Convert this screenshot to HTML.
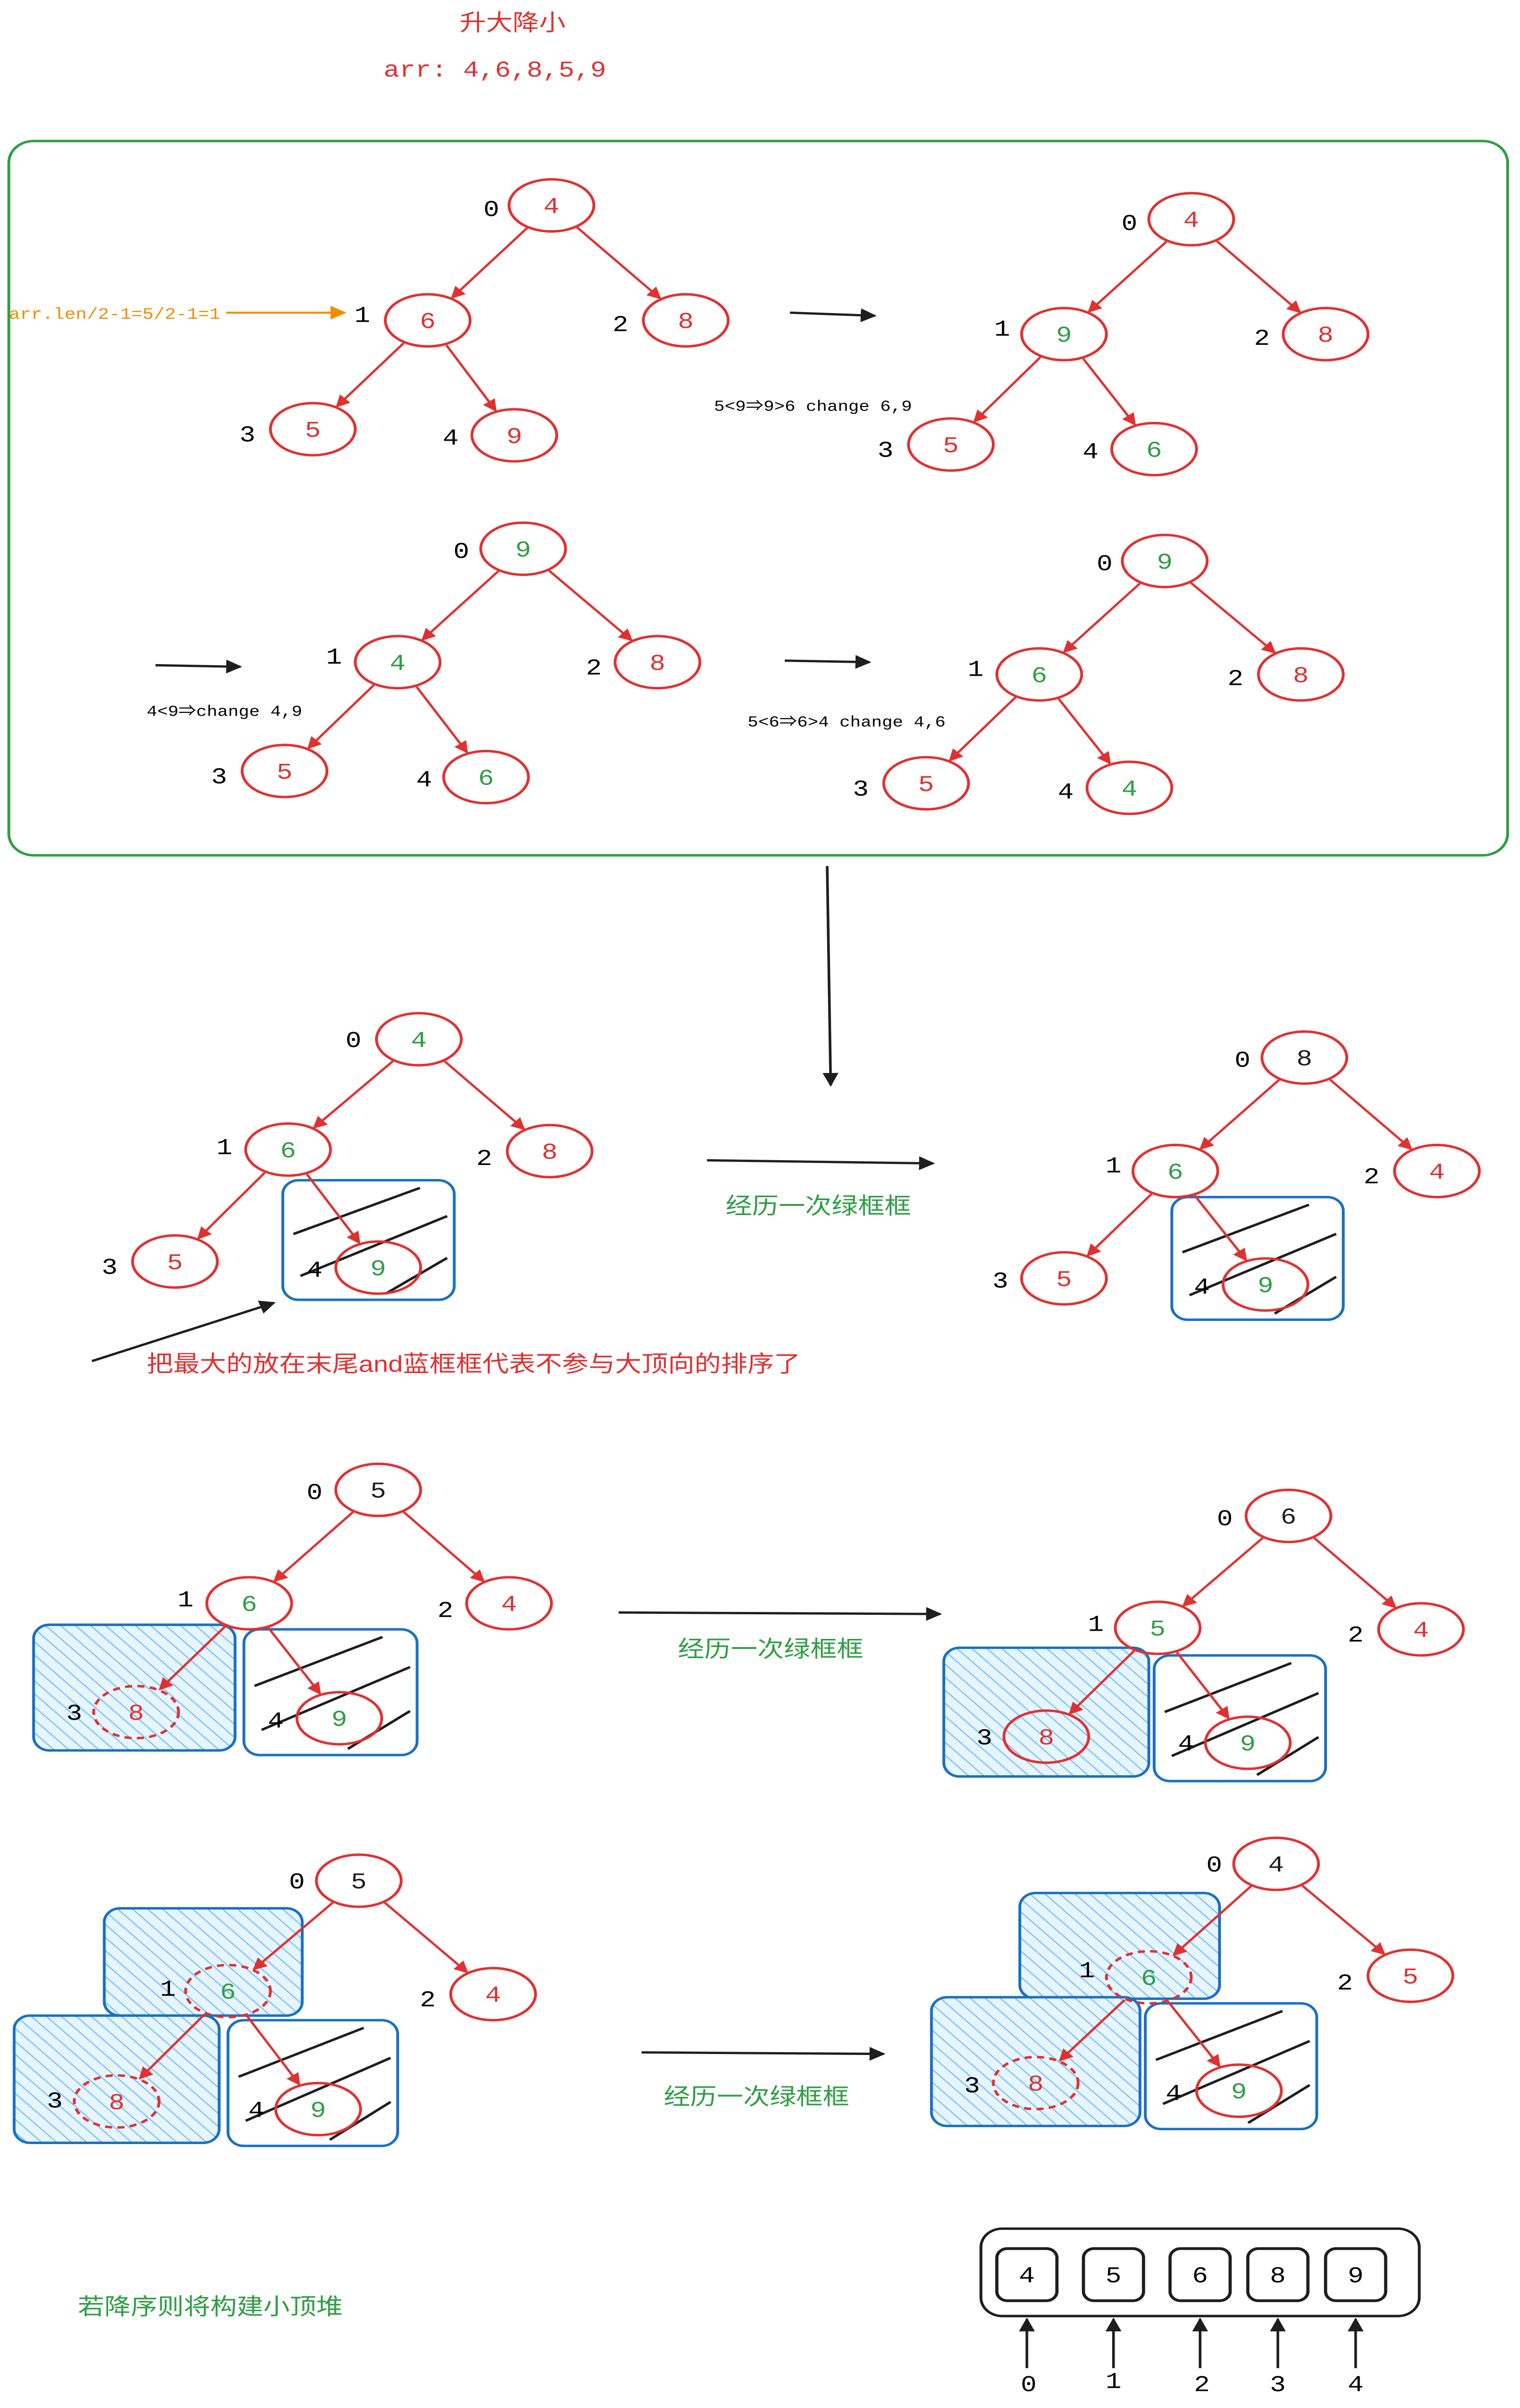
<!DOCTYPE html>
<html><head><meta charset="utf-8"><style>
html,body{margin:0;padding:0;background:#fff;overflow:hidden;width:100vw;height:100vh}
svg{display:block;position:absolute;left:0;top:0;width:100vw;height:100vh}
text{font-family:"Liberation Mono","Noto Sans CJK SC",monospace}
.cn{font-family:"Liberation Sans","Noto Sans CJK SC",sans-serif}
</style></head><body>
<svg id="s" xmlns="http://www.w3.org/2000/svg" viewBox="0 0 860 1571" preserveAspectRatio="none">
<defs>
<marker id="ar" markerWidth="8" markerHeight="8" refX="7" refY="4" orient="auto" markerUnits="userSpaceOnUse"><path d="M0,0 L8,4 L0,8 z" fill="#e03131"/></marker>
<marker id="ak" markerWidth="9" markerHeight="9" refX="8" refY="4.5" orient="auto" markerUnits="userSpaceOnUse"><path d="M0,0 L9,4.5 L0,9 z" fill="#1e1e1e"/></marker>
<marker id="ao" markerWidth="9" markerHeight="9" refX="8" refY="4.5" orient="auto" markerUnits="userSpaceOnUse"><path d="M0,0 L9,4.5 L0,9 z" fill="#f08c00"/></marker>
<pattern id="hb" width="6" height="6" patternUnits="userSpaceOnUse" patternTransform="rotate(-45)"><rect width="6" height="6" fill="#e7f5ff"/><line x1="0" y1="0" x2="0" y2="6" stroke="#74c0fc" stroke-width="1.4"/></pattern>
</defs>
<g id="g"></g>
<text x="290" y="20" font-size="15" fill="#e03131" class="cn" text-anchor="middle">升大降小</text>
<text x="217" y="50" font-size="15" fill="#e03131">arr: 4,6,8,5,9</text>
<rect x="5" y="92" width="848" height="466" rx="14" fill="none" stroke="#2f9e44" stroke-width="1.6"/>
<text x="5" y="208" font-size="10.5" fill="#f08c00">arr.len/2-1=5/2-1=1</text>
<text x="404" y="268" font-size="10">5&lt;9⇒9&gt;6 change 6,9</text>
<text x="83" y="467" font-size="10">4&lt;9⇒change 4,9</text>
<text x="423" y="474" font-size="10">5&lt;6⇒6&gt;4 change 4,6</text>
<text x="83" y="895" font-size="15" fill="#e03131" class="cn">把最大的放在末尾and蓝框框代表不参与大顶向的排序了</text>
<text x="463" y="792" font-size="15" fill="#2f9e44" class="cn" text-anchor="middle">经历一次绿框框</text>
<text x="436" y="1081" font-size="15" fill="#2f9e44" class="cn" text-anchor="middle">经历一次绿框框</text>
<text x="428" y="1373" font-size="15" fill="#2f9e44" class="cn" text-anchor="middle">经历一次绿框框</text>
<text x="119" y="1510" font-size="15" fill="#2f9e44" class="cn" text-anchor="middle">若降序则将构建小顶堆</text>
<g id="t" font-size="15" text-anchor="middle">
<text x="278" y="141">0</text><text x="205" y="210">1</text><text x="351" y="216">2</text><text x="140" y="288">3</text><text x="255" y="290">4</text>
<text x="639" y="150">0</text><text x="567" y="219">1</text><text x="714" y="225">2</text><text x="501" y="298">3</text><text x="617" y="299">4</text>
<text x="261" y="364">0</text><text x="189" y="433">1</text><text x="336" y="440">2</text><text x="124" y="511">3</text><text x="240" y="513">4</text>
<text x="625" y="372">0</text><text x="552" y="441">1</text><text x="699" y="447">2</text><text x="487" y="519">3</text><text x="603" y="521">4</text>
<text x="200" y="683">0</text><text x="127" y="753">1</text><text x="274" y="760">2</text><text x="62" y="831">3</text><text x="178" y="833">4</text>
<text x="703" y="696">0</text><text x="630" y="765">1</text><text x="776" y="772">2</text><text x="566" y="840">3</text><text x="680" y="844">4</text>
<text x="178" y="978">0</text><text x="105" y="1048">1</text><text x="252" y="1055">2</text><text x="42" y="1122">3</text><text x="156" y="1127">4</text>
<text x="693" y="995">0</text><text x="620" y="1064">1</text><text x="767" y="1071">2</text><text x="557" y="1138">3</text><text x="671" y="1142">4</text>
<text x="168" y="1232">0</text><text x="95" y="1302">1</text><text x="242" y="1309">2</text><text x="31" y="1375">3</text><text x="145" y="1381">4</text>
<text x="687" y="1221">0</text><text x="615" y="1290">1</text><text x="761" y="1298">2</text><text x="550" y="1365">3</text><text x="664" y="1370">4</text>
<text x="582" y="1560">0</text><text x="630" y="1558">1</text><text x="680" y="1560">2</text><text x="723" y="1560">3</text><text x="767" y="1560">4</text>
<text x="581" y="1489">4</text><text x="630" y="1489">5</text><text x="679" y="1489">6</text><text x="723" y="1489">8</text><text x="767" y="1489">9</text>
</g>
<g id="v" font-size="15" text-anchor="middle">
<text x="312" y="139" fill="#e03131">4</text><text x="242" y="214" fill="#e03131">6</text><text x="388" y="214" fill="#e03131">8</text><text x="177" y="285" fill="#e03131">5</text><text x="291" y="289" fill="#e03131">9</text>
<text x="674" y="148" fill="#e03131">4</text><text x="602" y="223" fill="#2f9e44">9</text><text x="750" y="223" fill="#e03131">8</text><text x="538" y="295" fill="#e03131">5</text><text x="653" y="298" fill="#2f9e44">6</text>
<text x="296" y="363" fill="#2f9e44">9</text><text x="225" y="437" fill="#2f9e44">4</text><text x="372" y="437" fill="#e03131">8</text><text x="161" y="508" fill="#e03131">5</text><text x="275" y="512" fill="#2f9e44">6</text>
<text x="659" y="371" fill="#2f9e44">9</text><text x="588" y="445" fill="#2f9e44">6</text><text x="736" y="445" fill="#e03131">8</text><text x="524" y="516" fill="#e03131">5</text><text x="639" y="519" fill="#2f9e44">4</text>
<text x="237" y="683" fill="#2f9e44">4</text><text x="163" y="755" fill="#2f9e44">6</text><text x="311" y="756" fill="#e03131">8</text><text x="99" y="828" fill="#e03131">5</text><text x="214" y="832" fill="#2f9e44">9</text>
<text x="738" y="695" fill="#1e1e1e">8</text><text x="665" y="769" fill="#2f9e44">6</text><text x="813" y="769" fill="#e03131">4</text><text x="602" y="839" fill="#e03131">5</text><text x="716" y="843" fill="#2f9e44">9</text>
<text x="214" y="977" fill="#1e1e1e">5</text><text x="141" y="1051" fill="#2f9e44">6</text><text x="288" y="1051" fill="#e03131">4</text><text x="77" y="1122" fill="#e03131">8</text><text x="192" y="1126" fill="#2f9e44">9</text>
<text x="729" y="994" fill="#1e1e1e">6</text><text x="655" y="1067" fill="#2f9e44">5</text><text x="804" y="1068" fill="#e03131">4</text><text x="592" y="1138" fill="#e03131">8</text><text x="706" y="1142" fill="#2f9e44">9</text>
<text x="203" y="1232" fill="#1e1e1e">5</text><text x="129" y="1304" fill="#2f9e44">6</text><text x="279" y="1306" fill="#e03131">4</text><text x="66" y="1376" fill="#e03131">8</text><text x="180" y="1381" fill="#2f9e44">9</text>
<text x="722" y="1221" fill="#1e1e1e">4</text><text x="650" y="1295" fill="#2f9e44">6</text><text x="798" y="1294" fill="#e03131">5</text><text x="586" y="1364" fill="#e03131">8</text><text x="701" y="1369" fill="#2f9e44">9</text>
</g>
</svg>
<script>
var NS="http://www.w3.org/2000/svg",g=document.getElementById("g");
function el(t,a){var e=document.createElementNS(NS,t);for(var k in a)e.setAttribute(k,a[k]);g.appendChild(e);return e;}
function line(x1,y1,x2,y2,c,w,m){var a={x1:x1,y1:y1,x2:x2,y2:y2,stroke:c,"stroke-width":w||1.2};if(m)a["marker-end"]="url(#"+m+")";el("line",a);}
function hb(x1,y1,x2,y2){el("rect",{x:x1,y:y1,width:x2-x1,height:y2-y1,rx:9,fill:"url(#hb)",stroke:"#1971c2","stroke-width":1.6});}
function eb(x1,y1,x2,y2){el("rect",{x:x1,y:y1,width:x2-x1,height:y2-y1,rx:9,fill:"none",stroke:"#1971c2","stroke-width":1.6});
 var w=x2-x1,h=y2-y1;
 line(x1+6,y1+h*0.45,x1+w*0.8,y1+5,"#1e1e1e",1.6);
 line(x1+10,y1+h*0.8,x2-4,y1+h*0.3,"#1e1e1e",1.6);
 line(x1+w*0.6,y2-4,x2-4,y1+h*0.65,"#1e1e1e",1.6);}
eb(160,770,257,848);eb(663,781,760,861);
hb(19,1060,133,1142);eb(138,1063,236,1145);
hb(534,1075,650,1159);eb(653,1080,750,1162);
hb(59,1245,171,1315);hb(8,1315,124,1398);eb(129,1318,225,1400);
hb(577,1235,690,1304);hb(527,1303,645,1387);eb(648,1307,745,1389);
var trees=[
[[312,134],[242,209],[388,209],[177,280],[291,284]],
[[674,143],[602,218],[750,218],[538,290],[653,293]],
[[296,358],[225,432],[372,432],[161,503],[275,507]],
[[659,366],[588,440],[736,440],[524,511],[639,514]],
[[237,678],[163,750],[311,751],[99,823],[214,827]],
[[738,690],[665,764],[813,764],[602,834],[716,838]],
[[214,972],[141,1046],[288,1046],[77,1117],[192,1121]],
[[729,989],[655,1062],[804,1063],[592,1133],[706,1137]],
[[203,1227],[129,1299],[279,1301],[66,1371],[180,1376]],
[[722,1216],[650,1290],[798,1289],[586,1359],[701,1364]]];
var dashed={"6-3":1,"8-3":1,"9-3":1,"8-1":1,"9-1":1};
trees.forEach(function(t,ti){
 [[0,1],[0,2],[1,3],[1,4]].forEach(function(e){var p=t[e[0]],c=t[e[1]],dx=c[0]-p[0],dy=c[1]-p[1],L=Math.sqrt(dx*dx+dy*dy),ux=dx/L,uy=dy/L;
  var r=Math.sqrt(1/((ux*ux)/(24*24)+(uy*uy)/(18*18)));
  line(p[0]+ux*r,p[1]+uy*r,c[0]-ux*r,c[1]-uy*r,"#e03131",1.4,"ar");});
 t.forEach(function(n,i){var a={cx:n[0],cy:n[1],rx:24,ry:17,fill:"none",stroke:"#e03131","stroke-width":1.6};
  if(dashed[ti+"-"+i])a["stroke-dasharray"]="4 3";el("ellipse",a);});
});
line(128,204,195,204,"#f08c00",1.3,"ao");
line(447,204,495,206,"#1e1e1e",1.5,"ak");
line(88,434,136,435,"#1e1e1e",1.5,"ak");
line(444,431,492,432,"#1e1e1e",1.5,"ak");
line(468,565,470,708,"#1e1e1e",1.5,"ak");
line(52,888,155,850,"#1e1e1e",1.5,"ak");
line(400,757,528,759,"#1e1e1e",1.5,"ak");
line(350,1052,532,1053,"#1e1e1e",1.5,"ak");
line(363,1339,500,1340,"#1e1e1e",1.5,"ak");
el("rect",{x:555,y:1454,width:248,height:57,rx:12,fill:"none",stroke:"#1e1e1e","stroke-width":1.6});
[581,630,679,723,767].forEach(function(x){el("rect",{x:x-17,y:1467,width:34,height:34,rx:6,fill:"none",stroke:"#1e1e1e","stroke-width":1.8});
 line(x,1545,x,1513,"#1e1e1e",1.5,"ak");});
</script>
</body></html>
